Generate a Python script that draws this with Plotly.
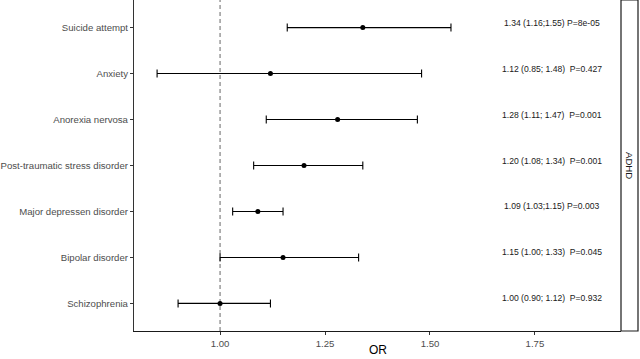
import plotly.graph_objects as go

categories = ["Suicide attempt", "Anxiety", "Anorexia nervosa",
              "Post-traumatic stress disorder", "Major depressen disorder",
              "Bipolar disorder", "Schizophrenia"]
or_vals = [1.34, 1.12, 1.28, 1.20, 1.09, 1.15, 1.00]
ci_low = [1.16, 0.85, 1.11, 1.08, 1.03, 1.00, 0.90]
ci_high = [1.55, 1.48, 1.47, 1.34, 1.15, 1.33, 1.12]
labels = ["1.34 (1.16;1.55) P=8e-05", "1.12 (0.85; 1.48)  P=0.427",
          "1.28 (1.11; 1.47)  P=0.001", "1.20 (1.08; 1.34)  P=0.001",
          "1.09 (1.03;1.15) P=0.003", "1.15 (1.00; 1.33)  P=0.045",
          "1.00 (0.90; 1.12)  P=0.932"]
x_ticks = [1.00, 1.25, 1.50, 1.75]
label_x = 1.79
strip_label = "ADHD"

FONT = "Liberation Sans, Arial"
L, R, T, B = 134, 19, 0, 28
pw = 640 - L - R
ph = 359 - T - B

fig = go.Figure()
fig.add_trace(go.Scatter(
    x=or_vals, y=categories, mode="markers",
    marker=dict(color="black", size=5),
    error_x=dict(type="data", symmetric=False,
                 array=[h - o for h, o in zip(ci_high, or_vals)],
                 arrayminus=[o - l for o, l in zip(or_vals, ci_low)],
                 color="black", thickness=1.1, width=4),
    showlegend=False, hoverinfo="skip"))

for cat, txt in zip(categories, labels):
    fig.add_annotation(x=label_x, y=cat, text=txt, showarrow=False,
                       xanchor="center", yanchor="middle", yshift=5,
                       font=dict(family=FONT, size=8.6, color="#1a1a1a"))

fig.add_shape(type="line", x0=1, x1=1, y0=0, y1=1, xref="x", yref="paper",
              line=dict(color="#666666", width=1, dash="4px,3px"), layer="below")

fig.add_shape(type="rect", xref="paper", yref="paper", x0=1.0, x1=1 + 17 / pw,
              y0=0, y1=1, line=dict(color="#1a1a1a", width=1.2), fillcolor="white")
fig.add_annotation(xref="paper", yref="paper", x=1 + 8.5 / pw, y=0.5, text=strip_label,
                   textangle=90, showarrow=False, xanchor="center", yanchor="middle",
                   font=dict(family=FONT, size=9.6, color="#1a1a1a"))
fig.add_annotation(xref="paper", yref="paper", x=0.5, y=-19 / ph, text="OR",
                   showarrow=False, xanchor="center", yanchor="middle",
                   font=dict(family=FONT, size=12, color="black"))

fig.update_layout(
    width=640, height=359,
    margin=dict(l=L, r=R, t=T, b=B, autoexpand=False),
    paper_bgcolor="white", plot_bgcolor="white",
    font=dict(family=FONT),
    xaxis=dict(range=[0.795, 1.955], tickvals=x_ticks, tickformat=".2f",
               automargin=False,
               showgrid=False, zeroline=False, showline=True, linecolor="#1a1a1a",
               linewidth=1.2, ticks="outside", ticklen=3, tickcolor="#333333",
               tickfont=dict(size=9.6, color="#4d4d4d")),
    yaxis=dict(type="category", categoryorder="array", automargin=False,
               categoryarray=list(reversed(categories)), range=[-0.6, 6.6],
               showgrid=False, zeroline=False, showline=True, linecolor="#333333",
               linewidth=1.2, ticks="outside", ticklen=3, tickcolor="#333333",
               tickfont=dict(size=9.6, color="#4d4d4d")),
)

fig.write_html("out.html", config={"displayModeBar": False},
               post_script="document.body.style.margin='0';document.body.style.overflow='hidden';")
